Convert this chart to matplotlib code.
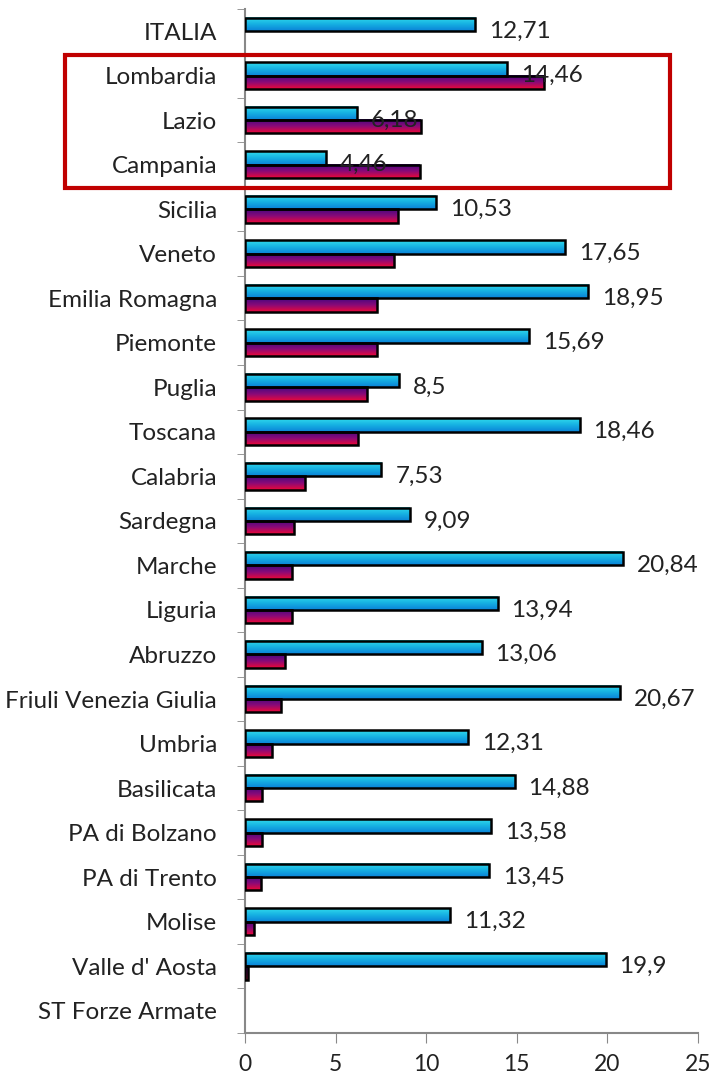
import numpy as np
import matplotlib
matplotlib.use("Agg")
import matplotlib.pyplot as plt
from matplotlib.colors import LinearSegmentedColormap
from matplotlib.patches import Rectangle

plt.rcParams["font.family"] = ["Lato", "DejaVu Sans"]

# Regions, top to bottom
regions = [
    "ITALIA", "Lombardia", "Lazio", "Campania", "Sicilia", "Veneto",
    "Emilia Romagna", "Piemonte", "Puglia", "Toscana", "Calabria",
    "Sardegna", "Marche", "Liguria", "Abruzzo", "Friuli Venezia Giulia",
    "Umbria", "Basilicata", "PA di Bolzano", "PA di Trento", "Molise",
    "Valle d' Aosta", "ST Forze Armate",
]
# cyan series (labelled)
series_a = [12.71, 14.46, 6.18, 4.46, 10.53, 17.65, 18.95, 15.69, 8.5, 18.46,
            7.53, 9.09, 20.84, 13.94, 13.06, 20.67, 12.31, 14.88, 13.58,
            13.45, 11.32, 19.9, None]
labels_a = ["12,71", "14,46", "6,18", "4,46", "10,53", "17,65", "18,95",
            "15,69", "8,5", "18,46", "7,53", "9,09", "20,84", "13,94",
            "13,06", "20,67", "12,31", "14,88", "13,58", "13,45", "11,32",
            "19,9", ""]
# magenta series
series_b = [None, 16.5, 9.7, 9.65, 8.45, 8.2, 7.3, 7.3, 6.75, 6.25, 3.3,
            2.7, 2.6, 2.6, 2.2, 2.0, 1.5, 0.95, 0.95, 0.9, 0.5, 0.15, None]

cyan = LinearSegmentedColormap.from_list("cy", ["#30dcec", "#16b0e2", "#0a82d8"])
mag = LinearSegmentedColormap.from_list("mg", ["#440880", "#8a0a78", "#ec0838"])
grad = np.linspace(0, 1, 64).reshape(-1, 1)

fig = plt.figure(figsize=(7.16, 10.81), dpi=100)
ax = fig.add_axes([0.342, 0.0444, 0.633, 0.9475])

n = len(regions)
h = 0.30
for i, name in enumerate(regions):
    c = n - 1 - i
    a = series_a[i]
    b = series_b[i]
    if a is not None:
        ax.imshow(grad, cmap=cyan, extent=(0, a, c, c + h), origin="upper",
                  aspect="auto", zorder=2)
        ax.barh(c + h / 2, a, height=h, facecolor="none", edgecolor="black",
                linewidth=1.8, zorder=3)
        ax.annotate(labels_a[i], (a, c + 0.0), xytext=(10, 0),
                    textcoords="offset points", va="center", ha="left",
                    fontsize=17.5, color="#222222", zorder=4)
    if b is not None:
        ax.imshow(grad, cmap=mag, extent=(0, b, c - h, c), origin="upper",
                  aspect="auto", zorder=2)
        ax.barh(c - h / 2, b, height=h, facecolor="none", edgecolor="black",
                linewidth=1.8, zorder=3)

ax.set_xlim(0, 25)
ax.set_ylim(-0.5, n - 0.5)
ax.set_xticks(np.arange(0, 26, 5))
ax.set_yticks(np.arange(n))
ax.set_yticklabels(regions[::-1])
ax.set_yticks(np.arange(n + 1) - 0.5, minor=True)
ax.tick_params(axis="y", which="major", length=0, pad=20, labelsize=17.5,
               labelcolor="#222222")
ax.tick_params(axis="y", which="minor", length=6, color="#888888")
ax.tick_params(axis="x", length=7, color="#888888", labelsize=16.5,
               labelcolor="#222222", pad=8)
for s in ["top", "right"]:
    ax.spines[s].set_visible(False)
for s in ["left", "bottom"]:
    ax.spines[s].set_color("#888888")
    ax.spines[s].set_linewidth(1.5)

# red highlight box around Lombardia / Lazio / Campania
fig.patches.append(Rectangle((65 / 716, 1 - 188 / 1081), 605 / 716, 133 / 1081,
                             transform=fig.transFigure, fill=False,
                             edgecolor="#c00000", linewidth=3, zorder=10))

fig.savefig("out.png", dpi=100)
